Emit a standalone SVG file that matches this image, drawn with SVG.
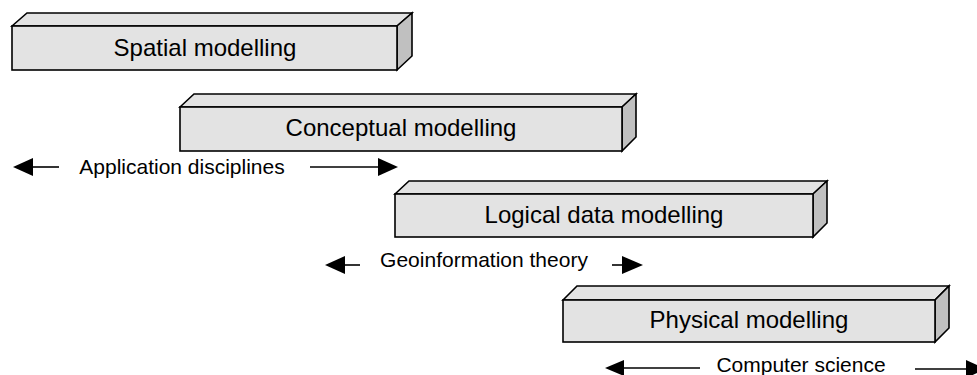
<svg xmlns="http://www.w3.org/2000/svg" width="977" height="375" viewBox="0 0 977 375">
<style>
.front{fill:#e3e3e3;stroke:#000;stroke-width:1.6;stroke-linejoin:miter}
.top{fill:#e3e3e3;stroke:#000;stroke-width:1.6}
.side{fill:#c0c0c0;stroke:#000;stroke-width:1.6}
.bl{font-family:"Liberation Sans",Arial,sans-serif;font-size:24px;fill:#000;text-anchor:middle}
.lb{font-family:"Liberation Sans",Arial,sans-serif;font-size:21px;fill:#000;text-anchor:middle}
.ln{stroke:#000;stroke-width:1.6;fill:none}
.hd{fill:#000}
</style>
<rect width="977" height="375" fill="#fff"/>
<g id="spatial">
<polygon class="top" points="12,26 27,13 412,13 397,26"/>
<polygon class="side" points="397,26 412,13 412,56 397,70"/>
<rect class="front" x="12" y="26" width="385" height="44"/>
<text class="bl" x="205" y="56">Spatial modelling</text>
</g>
<g id="conceptual">
<polygon class="top" points="180,107 194,94 636,94 622,107"/>
<polygon class="side" points="622,107 636,94 636,137 622,151"/>
<rect class="front" x="180" y="107" width="442" height="44"/>
<text class="bl" x="401" y="136">Conceptual modelling</text>
</g>
<g id="logical">
<polygon class="top" points="395,194 409,181 827,181 813,194"/>
<polygon class="side" points="813,194 827,181 827,223 813,237"/>
<rect class="front" x="395" y="194" width="418" height="43"/>
<text class="bl" x="604" y="223">Logical data modelling</text>
</g>
<g id="physical">
<polygon class="top" points="563,300 577,286 949,286 935,300"/>
<polygon class="side" points="935,300 949,286 949,328 935,342"/>
<rect class="front" x="563" y="300" width="372" height="42"/>
<text class="bl" x="749" y="328">Physical modelling</text>
</g>
<g id="labels">
<text class="lb" x="182" y="174">Application disciplines</text>
<text class="lb" x="484" y="267">Geoinformation theory</text>
<text class="lb" x="801" y="372">Computer science</text>
</g>
<g id="connectors">
<line class="ln" x1="30" y1="167" x2="59" y2="167"/>
<polygon class="hd" points="13,167 33,158 33,176"/>
<line class="ln" x1="310" y1="167" x2="380" y2="167"/>
<polygon class="hd" points="398,167 378,158 378,176"/>
<line class="ln" x1="342" y1="265" x2="360" y2="265"/>
<polygon class="hd" points="325,265 345,256 345,274"/>
<line class="ln" x1="612" y1="265" x2="625" y2="265"/>
<polygon class="hd" points="643,265 622,256 622,274"/>
<line class="ln" x1="620" y1="368" x2="700" y2="368"/>
<polygon class="hd" points="605,368 624,360 624,376"/>
<line class="ln" x1="915" y1="369" x2="970" y2="369"/>
<polygon class="hd" points="986,369 966,360 966,378"/>
</g>
</svg>
